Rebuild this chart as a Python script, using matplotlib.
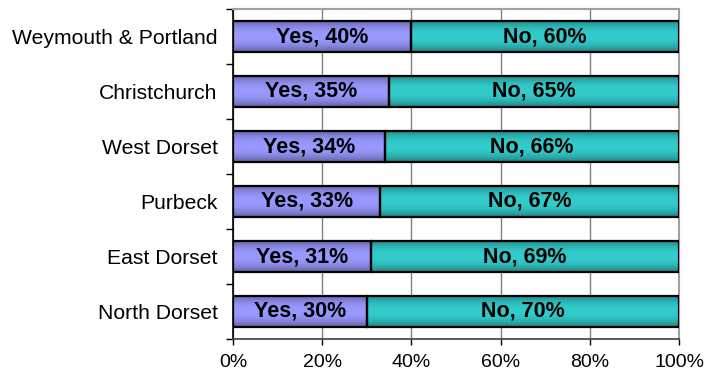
import numpy as np
import matplotlib
matplotlib.use("Agg")
import matplotlib.pyplot as plt
from matplotlib.colors import to_rgb

plt.rcParams['font.family'] = ['Liberation Sans', 'DejaVu Sans']

districts = ["North Dorset", "East Dorset", "Purbeck", "West Dorset",
             "Christchurch", "Weymouth & Portland"]
yes_pct = [30, 31, 33, 34, 35, 40]
no_pct = [70, 69, 67, 66, 65, 60]
x_ticks = [0, 20, 40, 60, 80, 100]
x_tick_labels = ["0%", "20%", "40%", "60%", "80%", "100%"]

yes_color = "#9999FF"
no_color = "#33CCCC"
bar_h = 0.58

fig = plt.figure(figsize=(7.12, 3.78), dpi=100)
ax = fig.add_axes([233 / 712, 1 - 339 / 378, (679 - 233) / 712, (339 - 9) / 378])

ypos = np.arange(len(districts))


def shaded_segment(ax, left, width, y, color):
    # vertical shading: darker at the top and bottom edges
    base = np.array(to_rgb(color))
    t = np.linspace(-1, 1, 64)
    shade = 1 - 0.38 * np.abs(t) ** 2.2
    img = (base[None, :] * shade[:, None])[:, None, :]
    ax.imshow(img, extent=(left, left + width, y - bar_h / 2, y + bar_h / 2),
              aspect='auto', origin='lower', zorder=2, interpolation='bilinear')
    ax.add_patch(plt.Rectangle((left, y - bar_h / 2), width, bar_h,
                               facecolor='none', edgecolor='black', lw=1.6, zorder=3))


for y, yv, nv in zip(ypos, yes_pct, no_pct):
    shaded_segment(ax, 0, yv, y, yes_color)
    shaded_segment(ax, yv, nv, y, no_color)
    ax.text(yv / 2, y, f"Yes, {yv}%", ha='center', va='center',
            fontsize=15.5, fontweight='bold', zorder=4)
    ax.text(yv + nv / 2, y, f"No, {nv}%", ha='center', va='center',
            fontsize=15.5, fontweight='bold', zorder=4)

ax.set_xlim(0, 100)
ax.set_ylim(-0.5, len(districts) - 0.5)
ax.set_xticks(x_ticks)
ax.set_xticklabels(x_tick_labels, fontsize=14)
ax.set_yticks(ypos)
ax.set_yticklabels(districts, fontsize=15.2)
ax.tick_params(axis='y', length=0, pad=11)
ax.set_yticks(np.arange(-0.5, len(districts)), minor=True)
ax.tick_params(axis='y', which='minor', length=5, width=1, color='black')
ax.tick_params(axis='x', length=4.5, width=1, color='black', pad=6.5)

ax.grid(axis='x', color='#808080', lw=1, zorder=0)
ax.set_axisbelow(True)

for side in ('top', 'right'):
    ax.spines[side].set_color('#A0A0A0')
    ax.spines[side].set_linewidth(1.5)
ax.spines['left'].set_color('black')
ax.spines['left'].set_linewidth(1.2)
ax.spines['bottom'].set_color('#404040')
ax.spines['bottom'].set_linewidth(1.2)

fig.savefig("out.png", dpi=100)
